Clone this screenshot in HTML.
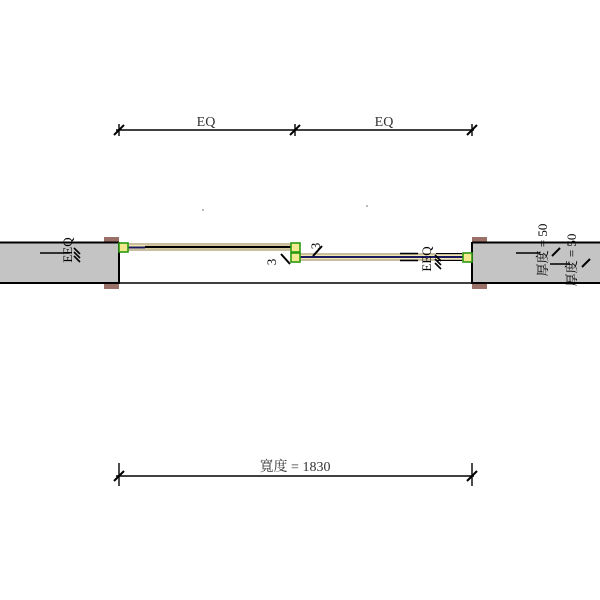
<!DOCTYPE html>
<html><head><meta charset="utf-8"><style>html,body{margin:0;background:#fff}svg{display:block}</style></head>
<body>
<svg width="600" height="600" viewBox="0 0 600 600" xmlns="http://www.w3.org/2000/svg" font-family="Liberation Serif, Noto Serif CJK SC, serif">
<g stroke="#000" stroke-width="1.4" fill="none">
<line x1="116" y1="130" x2="474" y2="130"/>
<line x1="119" y1="124" x2="119" y2="136"/><line x1="114" y1="135" x2="124" y2="125" stroke-width="2"/>
<line x1="295" y1="124" x2="295" y2="136"/><line x1="290" y1="135" x2="300" y2="125" stroke-width="2"/>
<line x1="472" y1="124" x2="472" y2="136"/><line x1="467" y1="135" x2="477" y2="125" stroke-width="2"/>
<line x1="116" y1="476" x2="474" y2="476"/>
<line x1="119" y1="463" x2="119" y2="486"/><line x1="114" y1="481" x2="124" y2="471" stroke-width="2"/>
<line x1="472" y1="463" x2="472" y2="486"/><line x1="467" y1="481" x2="477" y2="471" stroke-width="2"/>
</g>
<text x="206" y="126" font-size="14" text-anchor="middle" fill="#333">EQ</text>
<text x="384" y="126" font-size="14" text-anchor="middle" fill="#333">EQ</text>
<text x="295" y="471" font-size="14" text-anchor="middle" fill="#333">寬度 = 1830</text>
<rect x="104" y="237" width="15" height="52" fill="#9a7068"/>
<rect x="472" y="237" width="15" height="52" fill="#9a7068"/>
<rect x="0" y="242" width="119" height="41" fill="#c4c4c4"/>
<rect x="472" y="242" width="128" height="41" fill="#c4c4c4"/>
<g stroke="#000" stroke-width="2">
<line x1="0" y1="242.5" x2="119" y2="242.5"/><line x1="0" y1="283" x2="119" y2="283"/>
<line x1="472" y1="242.5" x2="600" y2="242.5"/><line x1="472" y1="283" x2="600" y2="283"/>
<line x1="119" y1="242" x2="119" y2="284"/><line x1="472" y1="242" x2="472" y2="284"/>
<line x1="119" y1="283" x2="472" y2="283" stroke-width="1.5"/>
</g>
<rect x="125" y="243" width="168" height="8" fill="#c9bea0"/>
<rect x="125" y="245" width="168" height="4" fill="#f2e8b0"/>
<line x1="128" y1="247.5" x2="145" y2="247.5" stroke="#1a1a60" stroke-width="2"/>
<line x1="145" y1="247" x2="300" y2="247" stroke="#000" stroke-width="2.2"/>
<rect x="298" y="253" width="166" height="8" fill="#c9bea0"/>
<rect x="298" y="255" width="166" height="4" fill="#f2e8b0"/>
<line x1="298" y1="257" x2="464" y2="257" stroke="#1a1a60" stroke-width="2"/>
<line x1="400" y1="253.5" x2="418" y2="253.5" stroke="#000" stroke-width="1.5"/>
<line x1="400" y1="260.5" x2="418" y2="260.5" stroke="#000" stroke-width="1.5"/>
<line x1="436" y1="253.5" x2="462" y2="253.5" stroke="#000" stroke-width="1"/>
<line x1="436" y1="260.5" x2="462" y2="260.5" stroke="#000" stroke-width="1"/>
<g fill="#f4e890" stroke="#2a9a10" stroke-width="1.6">
<rect x="119" y="243" width="9" height="9"/>
<rect x="291" y="243" width="9" height="9"/>
<rect x="291" y="253" width="9" height="9"/>
<rect x="463" y="253" width="9" height="9"/>
</g>
<g stroke="#000" stroke-width="1.6">
<line x1="40" y1="253" x2="70" y2="253"/>
<line x1="74" y1="248" x2="80" y2="254"/><line x1="74" y1="252" x2="80" y2="258"/><line x1="74" y1="256" x2="80" y2="262"/>
<line x1="281" y1="254" x2="290" y2="264" stroke-width="2"/>
<line x1="313" y1="256" x2="322" y2="246" stroke-width="2"/>
<line x1="435" y1="255" x2="441" y2="261"/><line x1="435" y1="259" x2="441" y2="265"/><line x1="435" y1="263" x2="441" y2="269"/>
<line x1="516" y1="253" x2="540" y2="253"/>
<line x1="550" y1="264" x2="570" y2="264"/>
<line x1="552" y1="256" x2="560" y2="248" stroke-width="2"/>
<line x1="582" y1="267" x2="590" y2="259" stroke-width="2"/>
</g>
<text transform="translate(72,250) rotate(-90)" font-size="13" text-anchor="middle" fill="#000">EEQ</text>
<text transform="translate(431,259) rotate(-90)" font-size="13" text-anchor="middle" fill="#000">EEQ</text>
<text transform="translate(276,262) rotate(-90)" font-size="13" text-anchor="middle">3</text>
<text transform="translate(320,246) rotate(-90)" font-size="13" text-anchor="middle">3</text>
<text transform="translate(547,250) rotate(-90)" font-size="13" text-anchor="middle">厚度 = 50</text>
<text transform="translate(576,260) rotate(-90)" font-size="13" text-anchor="middle">厚度 = 50</text>
<circle cx="203" cy="210" r="0.7" fill="#555"/><circle cx="367" cy="206" r="0.7" fill="#555"/>
</svg>
</body></html>
